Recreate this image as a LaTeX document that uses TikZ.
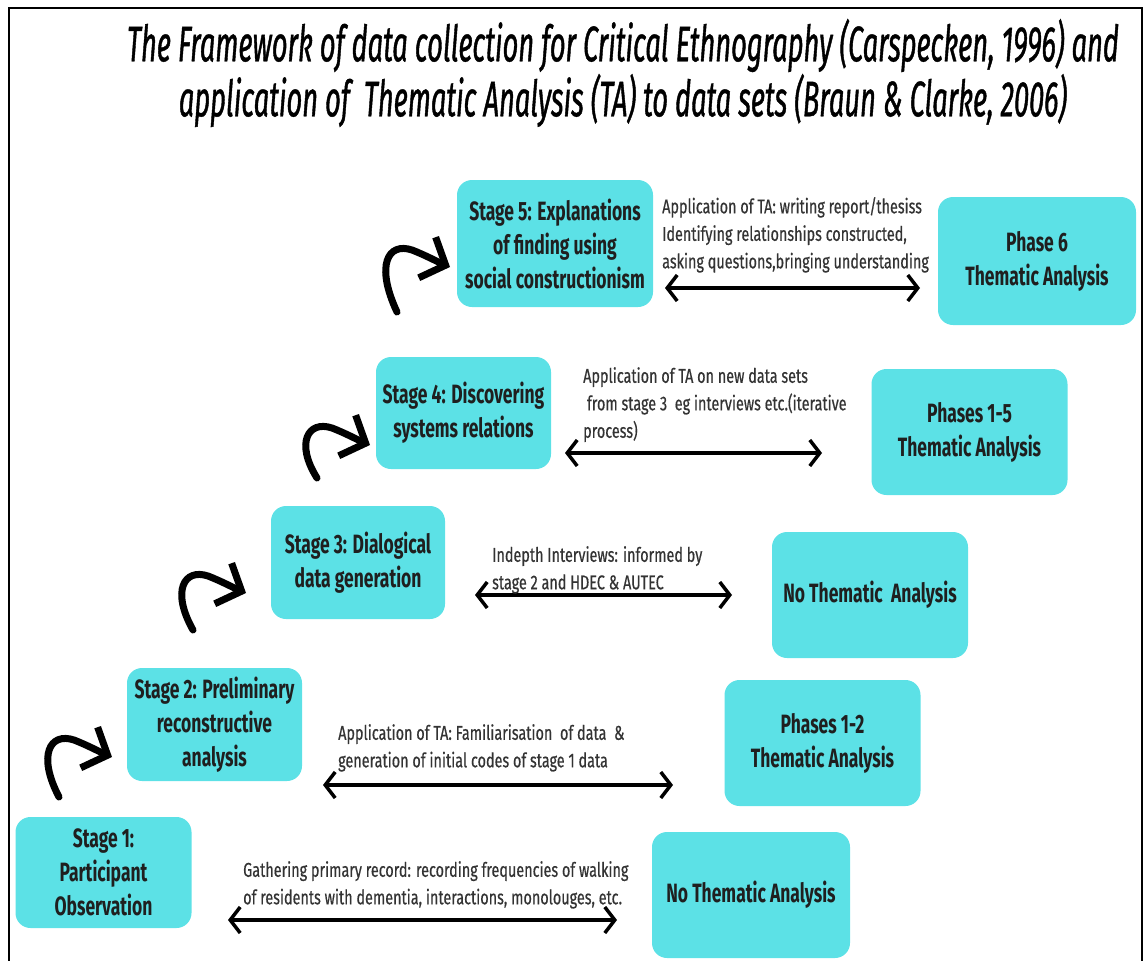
\documentclass[tikz,border=0pt]{standalone}
\usepackage{fontspec}
\setmainfont{Fira Sans}
\newfontfamily\titlefont{Fira Sans}[FakeStretch=0.545,FakeBold=0.8]
\newfontfamily\boxfont{Fira Sans}[FakeStretch=0.66]
\newfontfamily\notefont{Fira Sans}[FakeStretch=0.72,FakeBold=0.5]
\usetikzlibrary{arrows.meta}
\definecolor{boxcyan}{HTML}{5CE1E6}
\definecolor{notegray}{HTML}{333333}
\tikzset{
  stagebox/.style={fill=boxcyan, rounded corners=15pt, align=center, inner sep=0pt,
    text=black!88, font=\boxfont\bfseries\fontsize{26.5}{34}\selectfont},
  phasebox/.style={stagebox, minimum width=196pt, minimum height=126pt},
  note/.style={anchor=north west, align=left, inner sep=0pt, text=notegray,
    font=\notefont\fontsize{20}{27.5}\selectfont},
  twoway/.style={line width=3.5pt,
    {Straight Barb[length=10pt,width=26pt]}-{Straight Barb[length=10pt,width=26pt]}},
  curl/.style={line width=7pt, line cap=round, -{Straight Barb[length=20pt,width=44pt]}},
}
\begin{document}
\begin{tikzpicture}[x=1pt,y=-1pt]
  \useasboundingbox (0,0) rectangle (1146,961);
  % Frame (open at the bottom)
  \draw[line width=2pt] (9,961) -- (9,8) -- (1142,8) -- (1142,961);
  % Title
  \node[font=\titlefont\itshape\fontsize{50}{55}\selectfont, align=center] (title) at (623,73)
    {The Framework of data collection for Critical Ethnography (Carspecken, 1996) and\\
     application of\ \ Thematic Analysis (TA) to data sets (Braun \& Clarke, 2006)};
  % Stages of critical ethnography
  \node[stagebox, minimum width=196pt, minimum height=127pt] (s5) at (555,243.5)
    {Stage 5: Explanations\\of finding using\\social constructionism};
  \node[stagebox, minimum width=175pt, minimum height=112pt] (s4) at (463.5,413)
    {Stage 4: Discovering\\systems relations};
  \node[stagebox, minimum width=174pt, minimum height=113pt] (s3) at (358,562.5)
    {Stage 3: Dialogical\\data generation};
  \node[stagebox, minimum width=175pt, minimum height=113pt] (s2) at (214.5,724.5)
    {Stage 2: Preliminary\\reconstructive\\analysis};
  \node[stagebox, minimum width=176pt, minimum height=111pt] (s1) at (103.5,872.5)
    {Stage 1:\\Participant\\Observation};
  % Thematic analysis boxes
  \node[phasebox, minimum width=198pt, minimum height=128pt] (p6) at (1037,261)
    {Phase 6\\Thematic Analysis};
  \node[phasebox] (p5) at (969.5,432) {Phases 1-5\\Thematic Analysis};
  \node[phasebox] (n3) at (870,595) {No Thematic\ \ Analysis};
  \node[phasebox] (p2) at (822.5,743) {Phases 1-2\\Thematic Analysis};
  \node[phasebox, minimum width=198pt] (n1) at (751,895) {No Thematic Analysis};
  % Arrow ends
  \coordinate (a5l) at (665,288);  \coordinate (a5r) at (920,288);
  \coordinate (a4l) at (565,453);  \coordinate (a4r) at (822,453);
  \coordinate (a3l) at (475,595);  \coordinate (a3r) at (732,595);
  \coordinate (a2l) at (323,785);  \coordinate (a2r) at (673,785);
  \coordinate (a1l) at (228,920);  \coordinate (a1r) at (617,920);
  \foreach \r in {1,...,5} {
    \draw[twoway] (a\r l) -- (a\r r);
  }
  % Notes above the arrows
  \node[note] (t5) at (662,197) {Application of TA: writing report/thesiss\\
    Identifying relationships constructed,\\asking questions,bringing understanding};
  \node[note] (t4) at (583,367) {Application of TA on new data sets\\
    \ from stage 3\ \ eg interviews etc.(iterative\\process)};
  \node[note] (t3) at (492,546) {Indepth Interviews: informed by\\stage 2 and HDEC \& AUTEC};
  \node[note] (t2) at (338,724) {Application of TA: Familiarisation\ \ of data\ \ \&\\
    generation of initial codes of stage 1 data};
  \node[note] (t1) at (243,861) {Gathering primary record: recording frequencies of walking\\
    of residents with dementia, interactions, monolouges, etc.};
  % Curved arrows climbing the stages
  \foreach \tx/\ty/\dy in {450/267/45, 370/445/33, 246/593/37, 112/757/40} {
    \draw[curl] (\tx-53,\ty+\dy) .. controls (\tx-75,\ty-2) and (\tx-62,\ty-25) .. (\tx-38,\ty-17)
      .. controls (\tx-25,\ty-12) and (\tx-12,\ty-5) .. (\tx,\ty);
  }
\end{tikzpicture}
\end{document}
